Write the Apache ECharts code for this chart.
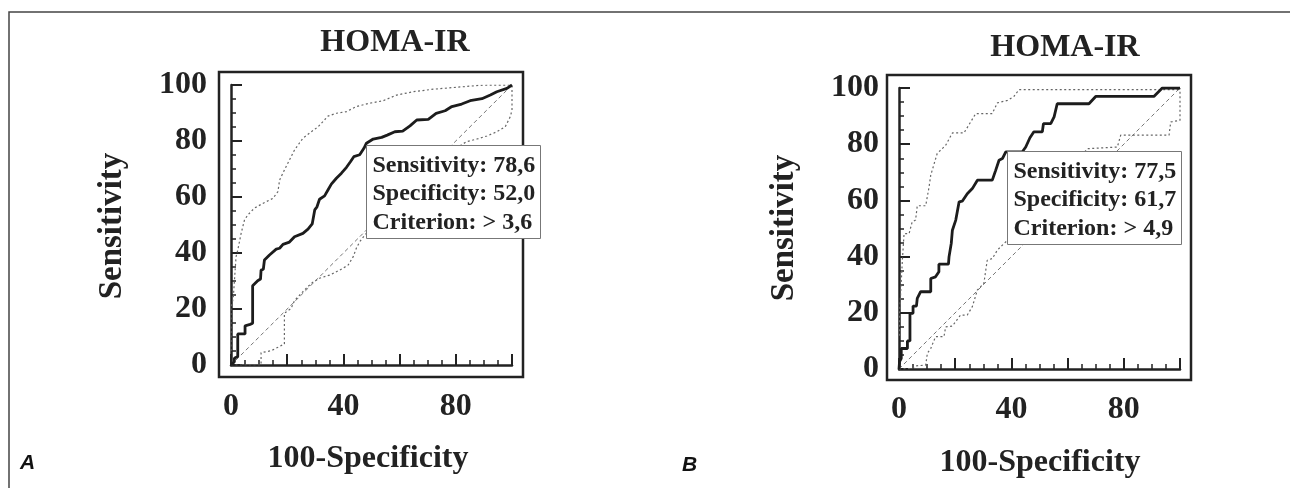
<!DOCTYPE html>
<html>
<head>
<meta charset="utf-8">
<script src="https://cdn.jsdelivr.net/npm/echarts@6/dist/echarts.min.js"></script>
<style>
    html, body {margin: 0; padding: 0; background: #fff;}
    #chart {width: 1290px; height: 488px;}
</style>
</head>
<body>
<div id="chart"></div>
<script>
// ROC curves for HOMA-IR, two panels (A, B)
const diagonal = [[0, 0], [100, 100]];
const xTickLabels = [0, 40, 80];

// panel A
const rocA = [[0, 0], [1.2, 1.2], [1.2, 2.4], [2.4, 3], [2.4, 11.1], [5, 11.1], [5, 14], [6.8, 14.5], [7.7, 14.9],
    [7.7, 28.3], [9.5, 30.1], [10.5, 30.7], [10.7, 33.9], [11.5, 34.2], [11.9, 37.5], [13.7, 39.3], [16.1, 41.4],
    [17.3, 41.7], [18.5, 43.1], [20.8, 43.9], [22.6, 45.8], [25.6, 47], [27.4, 48.5], [28.9, 50.4], [29.8, 55.4],
    [30.6, 56.5], [31.5, 59.2], [33.3, 60.4], [34.5, 62.5], [35.7, 64.6], [37.5, 66.7], [39.3, 68.5], [41.1, 70.6],
    [42.5, 72.6], [43.7, 74.4], [45.8, 75.1], [47.3, 77.4], [48.2, 79.2], [50.6, 80.7], [53.6, 81.3], [55.6, 82.1],
    [58.3, 83.3], [61.1, 83.5], [63.7, 85.4], [66.1, 87.5], [70.2, 87.7], [73, 89.9], [76.2, 90.8], [78.6, 92.3],
    [82.1, 93.2], [85.1, 94.4], [89.3, 95.1], [92.3, 96.4], [94.6, 97.6], [98.2, 98.8], [100, 100]];
const upperA = [[0, 5], [0, 20.5], [0.8, 23.8], [1.8, 38.7], [2.4, 41], [3.6, 47], [4.8, 51.8], [6, 53.6], [8.3, 56],
    [11.3, 57.7], [14.9, 59.5], [16.7, 61.9], [17.3, 66.1], [19, 69.6], [20.8, 73.2], [22.6, 76.8], [25.6, 81],
    [28.6, 83.3], [31, 85.1], [32.7, 86.9], [34.5, 88.9], [37.5, 89.9], [41.1, 90.5], [44.6, 92.3], [49.4, 93.5],
    [54.2, 94.4], [58.9, 96.4], [64.9, 97.6], [72, 98.5], [80.4, 99.2], [88.7, 99.9], [100, 100]];
const lowerA = [[0, 0], [10.7, 0], [10.7, 4.4], [14.3, 5.1], [19, 7.5], [19, 18.5], [21.4, 20.2], [22.6, 23],
    [25.6, 26.2], [28.6, 29.2], [31.5, 31], [35.1, 32.1], [38.7, 33.9], [41.7, 35.7], [43.5, 38.7], [44.6, 41.7],
    [45.8, 44], [47.6, 46.4], [52, 51], [57, 57], [62, 63], [67, 68], [72, 72], [77, 75.5], [83.9, 79.8],
    [87.5, 80.7], [91.1, 81.8], [94.6, 83.3], [97.6, 85.1], [99.4, 88.7], [100, 91], [100, 100]];
const pointA = [48.0, 78.6];
const statsA = ['Sensitivity: 78,6', 'Specificity: 52,0', 'Criterion: > 3,6'];

// panel B
const rocB = [[0, 0], [0.2, 2.6], [0.8, 3.8], [0.8, 7.3], [3, 7.3], [3, 10], [3.9, 10], [3.9, 19.8], [5, 19.8],
    [5, 22.4], [6.2, 22.4], [6.5, 25.1], [7.7, 27.5], [11.3, 27.5], [11.3, 32.2], [13, 32.8], [14.2, 34.6],
    [14.2, 37.3], [17.6, 37.3], [17.8, 39.9], [18.6, 44.7], [19, 49.4], [20.2, 53], [21.4, 59.5], [22.5, 59.7],
    [24.3, 62.4], [26.1, 64.2], [27.9, 67.2], [33.2, 67.2], [34.4, 70.7], [35.6, 74.3], [36.8, 74.9], [38, 77.3],
    [43.9, 77.3], [45.1, 79], [46.6, 82.3], [48, 84.4], [51, 84.4], [51.4, 87.3], [54, 87.3], [55.2, 89.7],
    [56.3, 94.4], [67.6, 94.4], [70, 97], [90.7, 97], [93.7, 100], [100, 100]];
const upperB = [[0.2, 11.8], [0.2, 19.8], [1.2, 38.7], [1.8, 48.2], [3.6, 48.2], [4.7, 52.4], [5.9, 53], [6.5, 58.1],
    [9.5, 58.1], [10.7, 64.8], [11.3, 69], [13.6, 76.7], [16.6, 79.6], [19, 84], [23.1, 84], [25.5, 87.9],
    [27.3, 90.9], [33.2, 90.9], [35, 94.7], [38.6, 95.6], [40.9, 97], [42.7, 99.4], [100, 99.4]];
const lowerB = [[0, 0], [4.7, 0.2], [5.9, 1.1], [9.5, 1.4], [10.1, 5.6], [11.3, 7.3], [13, 11.5], [16, 11.5],
    [16.6, 15], [19, 15.3], [21.9, 19.2], [24.3, 19.2], [26.1, 22.2], [27.9, 28.1], [30.2, 30.5], [31.4, 38.7],
    [33.2, 39.3], [35, 42.3], [36.8, 44.1], [41, 48], [46, 53], [51, 58], [56, 64], [61, 71], [65, 76], [67, 78.4],
    [77.7, 79], [78.9, 83.2], [96.1, 83.2], [96.7, 87.9], [100, 88.5], [100, 100]];
const pointB = [38.3, 77.5];
const statsB = ['Sensitivity: 77,5', 'Specificity: 61,7', 'Criterion: > 4,9'];

const SERIF = '"Liberation Serif", "Times New Roman", serif';
const INK = '#222';

let panels = [
    {grid: {left: 231, top: 85, width: 281, height: 280}, xOff: 12, yOff: 12, yMargin: 12,
        roc: rocA, upper: upperA, lower: lowerA, point: pointA, stats: statsA,
        title: [395, 43], xName: [368, 459], yName: [112, 226], letter: ['A', 20, 463]},
    {grid: {left: 899, top: 88, width: 281, height: 281}, xOff: 11, yOff: 12, yMargin: 8,
        roc: rocB, upper: upperB, lower: lowerB, point: pointB, stats: statsB,
        title: [1065, 48], xName: [1040, 463], yName: [784, 228], letter: ['B', 682, 465]},
];

function baseAxis() {
    return {
        type: 'value', min: 0, max: 100, interval: 20,
        axisLine: {show: true, lineStyle: {color: INK, width: 2.5}},
        axisTick: {show: true, inside: true, length: 11, lineStyle: {color: INK, width: 2}},
        minorTick: {show: true, splitNumber: 4, length: 5, lineStyle: {color: INK, width: 1.5}},
        splitLine: {show: false},
        minorSplitLine: {show: false},
    };
}

let chart = echarts.init(document.getElementById('chart'), null, {renderer: 'canvas'});

let xAxes = [], yAxes = [], series = [], graphics = [];
panels.forEach(function (p, i) {
    xAxes.push(Object.assign(baseAxis(), {
        gridIndex: i, position: 'bottom', offset: p.xOff,
        axisLabel: {
            margin: 14, fontSize: 32, fontWeight: 'bold', fontFamily: SERIF, color: INK,
            formatter: function (v) { return xTickLabels.indexOf(v) >= 0 ? String(v) : ''; }
        }
    }));
    yAxes.push(Object.assign(baseAxis(), {
        gridIndex: i, position: 'left', offset: p.yOff,
        axisLabel: {margin: p.yMargin, fontSize: 32, fontWeight: 'bold', fontFamily: SERIF, color: INK}
    }));
    series.push(
        {type: 'line', xAxisIndex: i, yAxisIndex: i, data: diagonal, showSymbol: false, silent: true,
            lineStyle: {color: '#777', width: 1, type: [4, 3]}},
        {type: 'line', xAxisIndex: i, yAxisIndex: i, data: p.upper, showSymbol: false, silent: true,
            lineStyle: {color: '#666', width: 1.2, type: [2, 2.5]}},
        {type: 'line', xAxisIndex: i, yAxisIndex: i, data: p.lower, showSymbol: false, silent: true,
            lineStyle: {color: '#666', width: 1.2, type: [2, 2.5]}},
        {type: 'line', xAxisIndex: i, yAxisIndex: i, data: p.roc, showSymbol: false, silent: true,
            lineStyle: {color: '#1c1c1c', width: 2.8}}
    );

    // plot frame around the axes
    let g = p.grid;
    graphics.push({
        type: 'rect', z: 50, silent: true,
        shape: {x: g.left - p.yOff, y: g.top - 13, width: g.width + p.yOff + 11, height: g.height + 13 + p.xOff},
        style: {fill: null, stroke: INK, lineWidth: 2.5}
    });
    graphics.push({
        type: 'text', x: p.title[0], y: p.title[1], silent: true,
        style: {text: 'HOMA-IR', font: 'bold 32px ' + SERIF, fill: INK, align: 'center', verticalAlign: 'middle'}
    });
    graphics.push({
        type: 'text', x: p.xName[0], y: p.xName[1], silent: true,
        style: {text: '100-Specificity', font: 'bold 32px ' + SERIF, fill: INK, align: 'center', verticalAlign: 'middle'}
    });
    graphics.push({
        type: 'text', x: p.yName[0], y: p.yName[1], rotation: Math.PI / 2, silent: true,
        style: {text: 'Sensitivity', font: 'bold 33px ' + SERIF, fill: INK, align: 'center', verticalAlign: 'middle'}
    });
    graphics.push({
        type: 'text', x: p.letter[1], y: p.letter[2], silent: true,
        style: {text: p.letter[0], font: 'italic bold 21px "Liberation Sans", Arial, sans-serif', fill: '#111',
            align: 'left', verticalAlign: 'middle'}
    });
});

// outer figure border (left and top)
graphics.push({
    type: 'polyline', silent: true,
    shape: {points: [[9, 488], [9, 12], [1290, 12]]},
    style: {fill: null, stroke: '#444', lineWidth: 1.5}
});

let option = {
    animation: false,
    backgroundColor: '#fff',
    grid: panels.map(function (p) { return Object.assign({containLabel: false}, p.grid); }),
    xAxis: xAxes,
    yAxis: yAxes,
    series: series,
    graphic: graphics,
};
chart.setOption(option);

// statistics box anchored at the criterion point of each curve
panels.forEach(function (p, i) {
    let pt = chart.convertToPixel({gridIndex: i}, p.point);
    let x0 = Math.round(pt[0]) + 0.5, y0 = Math.round(pt[1]) + 0.5;
    graphics.push({
        type: 'rect', z: 100, silent: true,
        shape: {x: x0, y: y0, width: 174, height: 93},
        style: {fill: '#ffffff', stroke: '#777', lineWidth: 1}
    });
    p.stats.forEach(function (s, k) {
        graphics.push({
            type: 'text', z: 101, silent: true, x: x0 + 6, y: y0 + 20 + k * 28.5,
            style: {text: s, font: 'bold 24px ' + SERIF, fill: INK, align: 'left', verticalAlign: 'middle'}
        });
    });
});
chart.setOption({graphic: graphics}, {replaceMerge: ['graphic']});
</script>
</body>
</html>
